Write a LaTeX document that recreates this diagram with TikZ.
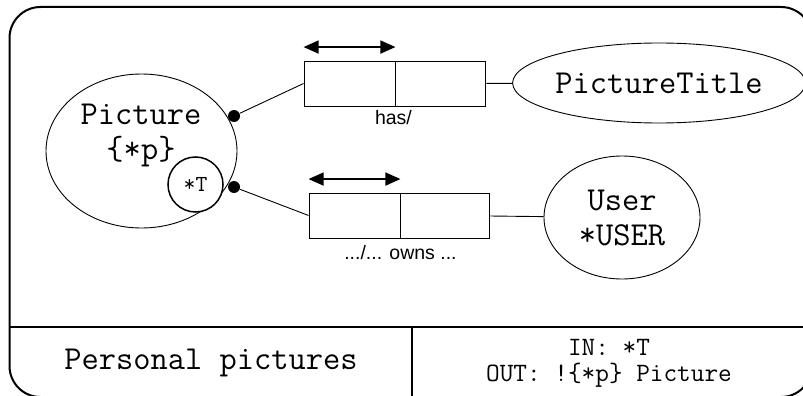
\documentclass[tikz,border=0pt]{standalone}
\usepackage{fontspec}
\setmainfont{Liberation Sans}
\usetikzlibrary{shapes.geometric,arrows.meta}
\begin{document}
\begin{tikzpicture}[x=1pt, y=-1pt, line width=.9pt, >={Triangle[length=15pt,width=13pt]},
 ent/.style={draw, ellipse, inner sep=0pt, align=center, font=\ttfamily\fontsize{33.5}{35}\selectfont},
 cell/.style={draw, minimum height=45pt, inner sep=0pt},
 dot/.style={circle, fill, inner sep=0pt, minimum size=12pt},
 rel/.style={anchor=north, inner sep=0pt, font=\fontsize{19.5}{20}\selectfont}]
 \useasboundingbox (0,0) rectangle (803,396);
 % frame with title row
 \begin{scope}
 \clip (0,0) rectangle (803,396);
 \draw[line width=2pt, rounded corners=31pt] (9.5,7) rectangle (812,397);
 \draw[line width=1.6pt] (9.5,327) -- (812,327);
 \draw[line width=1.6pt] (412,327) -- (412,397);
 \end{scope}
 \node[font=\ttfamily\fontsize{33.5}{35}\selectfont] (title) at (211,363) {Personal pictures};
 \node[align=center, inner sep=0pt, font=\ttfamily\fontsize{26.5}{26}\selectfont] (io) at (609,363) {IN: *T\\OUT: !\{*p\} Picture};
 % entities
 \node[ent, minimum width=191pt, minimum height=154pt] (pic) at (141.5,151) {};
 \node[align=center, font=\ttfamily\fontsize{33.5}{35}\selectfont] (pictxt) at (141,135) {Picture\\\{*p\}};
 \node[circle, draw, fill=white, line width=1.5pt, minimum size=55pt, inner sep=0pt,
  font=\ttfamily\fontsize{23}{22}\selectfont] (tin) at (195.5,184.5) {*T};
 \node[ent, minimum width=282pt, minimum height=80pt] (ptitle) at (659,83) {PictureTitle};
 \node[ent, minimum width=156pt, minimum height=123pt] (user) at (622,217.5) {User\\*USER};
 \node[dot] (d1) at (234,116) {};
 \node[dot] (d2) at (234,187) {};
 % relation boxes
 \node[cell, minimum width=91pt] (hasl) at (349.5,83.5) {};
 \node[cell, minimum width=90pt, anchor=west] (hasr) at (hasl.east) {};
 \node[cell, minimum width=91pt] (ownl) at (354.5,215.5) {};
 \node[cell, minimum width=89pt, anchor=west] (ownr) at (ownl.east) {};
 \draw[<->, line width=1.5pt] ([yshift=13.5pt]hasl.north west) -- ([yshift=13.5pt]hasl.north east);
 \draw[<->, line width=1.5pt] ([yshift=13.5pt]ownl.north west) -- ([yshift=13.5pt]ownl.north east);
 \node[rel] (haslbl) at ([xshift=-2pt,yshift=-3.5pt]hasl.south east) {has/};
 \node[rel] (ownlbl) at ([yshift=-6pt]ownl.south east) {.../... owns ...};
 \draw (d1) -- (hasl.west);
 \draw (hasr) -- (ptitle);
 \draw (d2) -- (ownl.west);
 \draw (ownr) -- (user);
\end{tikzpicture}
\end{document}
